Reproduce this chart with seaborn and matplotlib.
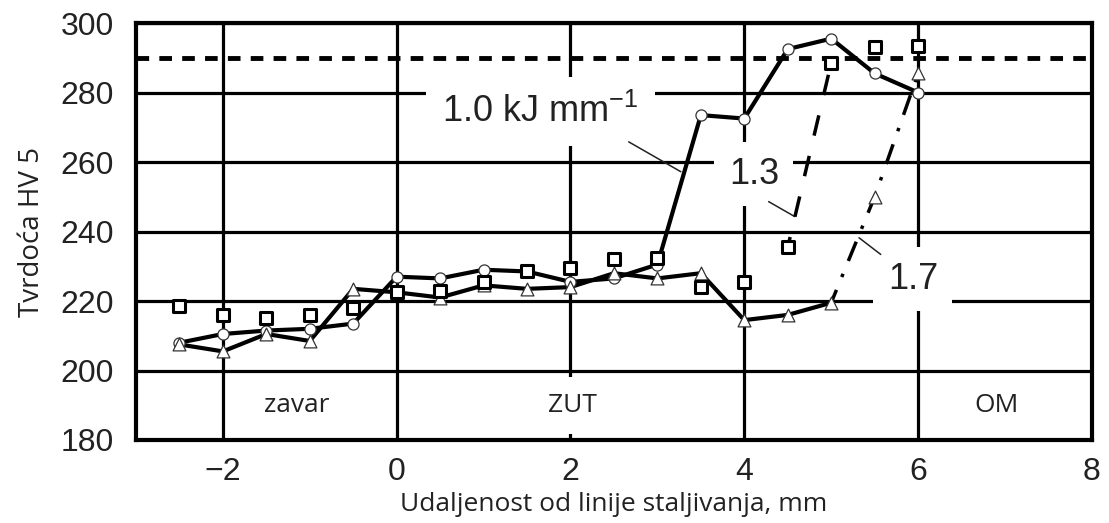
import numpy as np
import pandas as pd
import seaborn as sns
import matplotlib.pyplot as plt
import warnings

warnings.filterwarnings("ignore")

# Hardness profiles (HV 5) vs distance from fusion line (mm)
dist = [-2.5, -2, -1.5, -1, -0.5, 0, 0.5, 1, 1.5, 2, 2.5, 3, 3.5, 4, 4.5, 5, 5.5, 6]
hv_10 = [208, 210.5, 211.5, 212, 213.5, 227, 226.5, 229, 228.5, 225.5, 226.5, 230.5,
         273.5, 272.5, 292.5, 295.5, 285.5, 280]
hv_13 = [218.5, 216, 215, 216, 218, 222.5, 223, 225.5, 228.5, 229.5, 232, 232.5,
         224, 225.5, 235.5, 288.5, 293, 293.5]
hv_17 = [207.5, 205.5, 210.5, 208.5, 223.5, 222.5, 221, 224.5, 223.5, 224, 228, 226.5,
         228, 214.5, 216, 219.5, 250, 285.5]
limit_hv = 290

x_ticks = [-2, 0, 2, 4, 6, 8]
y_ticks = [180, 200, 220, 240, 260, 280, 300]
zones = ["zavar", "ZUT", "OM"]
zone_x = [-1.15, 2.02, 6.9]

df = pd.DataFrame({"x": dist, "hv10": hv_10, "hv13": hv_13, "hv17": hv_17})

sns.set_style("white")
plt.rcParams['font.family'] = ['Liberation Sans', 'DejaVu Sans']
plt.rcParams['mathtext.default'] = 'regular'
narrow = ['Liberation Sans Narrow', 'Open Sans', 'DejaVu Sans']

fig = plt.figure(figsize=(11.09, 5.23), dpi=100)
ax = fig.add_axes([0.1226, 0.1587, 0.862, 0.7973])

# 1.0 kJ/mm - circles, solid
sns.lineplot(data=df, x="x", y="hv10", ax=ax, color="black", lw=3.0, marker="o",
             markersize=8, markerfacecolor="white", markeredgecolor="#333333",
             markeredgewidth=0.9, zorder=5)

# 1.7 kJ/mm - triangles, solid up to 5 mm then dash-dot
low = df[df.x <= 5]
high = df[df.x >= 5]
sns.lineplot(data=low, x="x", y="hv17", ax=ax, color="black", lw=3.0, zorder=4)
sns.lineplot(data=high, x="x", y="hv17", ax=ax, color="black", lw=2.5,
             linestyle=(2, (6, 4, 1, 4)), zorder=4)
sns.scatterplot(data=df, x="x", y="hv17", ax=ax, marker="^", s=85, color="white",
                edgecolor="#333333", linewidth=0.9, zorder=6)

# 1.3 kJ/mm - squares, dashed rise
rise = df[(df.x >= 4.5) & (df.x <= 5)]
sns.lineplot(data=rise, x="x", y="hv13", ax=ax, color="black", lw=2.5,
             linestyle=(3, (6, 6)), zorder=4)
sns.scatterplot(data=df, x="x", y="hv13", ax=ax, marker="s", s=70, color="white",
                edgecolor="black", linewidth=2.2, zorder=6)

ax.axhline(limit_hv, color="black", lw=3.5, linestyle=(0, (2.6, 2.1)), zorder=3)

ax.set_xlim(-3, 8)
ax.set_ylim(180, 300)
ax.set_xticks(x_ticks)
ax.set_xticklabels(["\u22122", "0", "2", "4", "6", "8"])
ax.set_yticks(y_ticks)
ax.tick_params(axis="both", length=0, labelsize=23, colors="#222222")
ax.tick_params(axis="x", pad=12)
ax.tick_params(axis="y", pad=16)
ax.set_axisbelow(True)
ax.grid(True, color="black", lw=2.3)
for s in ax.spines.values():
    s.set_linewidth(3)
    s.set_color("black")

ax.set_xlabel("Udaljenost od linije staljivanja, mm", fontsize=19, family=narrow,
              color="#222222", labelpad=4)
ax.set_ylabel("Tvrdoća HV 5", fontsize=20, family=narrow, color="#222222", labelpad=10)

ax.text(1.65, 274.5, "1.0 kJ mm$^{-1}$", fontsize=26, ha="center", va="center",
        bbox=dict(boxstyle="square,pad=0.45", fc="white", ec="none"), zorder=2,
        color="#222222")
ax.text(4.11, 256.5, "1.3", fontsize=26, ha="center", va="center",
        bbox=dict(boxstyle="square,pad=0.4", fc="white", ec="none"), zorder=2, color="#222222")
ax.text(5.94, 226.3, "1.7", fontsize=26, ha="center", va="center",
        bbox=dict(boxstyle="square,pad=0.4", fc="white", ec="none"), zorder=2, color="#222222")

# leader lines
ax.annotate("", xy=(3.27, 257.2), xytext=(2.67, 265.8),
            arrowprops=dict(arrowstyle="-", lw=1.1, color="#222222", shrinkA=0, shrinkB=0))
ax.annotate("", xy=(4.58, 244.3), xytext=(4.28, 248.6),
            arrowprops=dict(arrowstyle="-", lw=1.1, color="#222222", shrinkA=0, shrinkB=0))
ax.annotate("", xy=(5.32, 238.2), xytext=(5.57, 233.4),
            arrowprops=dict(arrowstyle="-", lw=1.1, color="#222222", shrinkA=0, shrinkB=0))

for name, zx in zip(zones, zone_x):
    ax.text(zx, 190, name, fontsize=19, family=narrow, ha="center", va="center",
            color="#222222", bbox=dict(boxstyle="square,pad=0.6", fc="white", ec="none"),
            zorder=2)

plt.savefig("out.png", dpi=100)
